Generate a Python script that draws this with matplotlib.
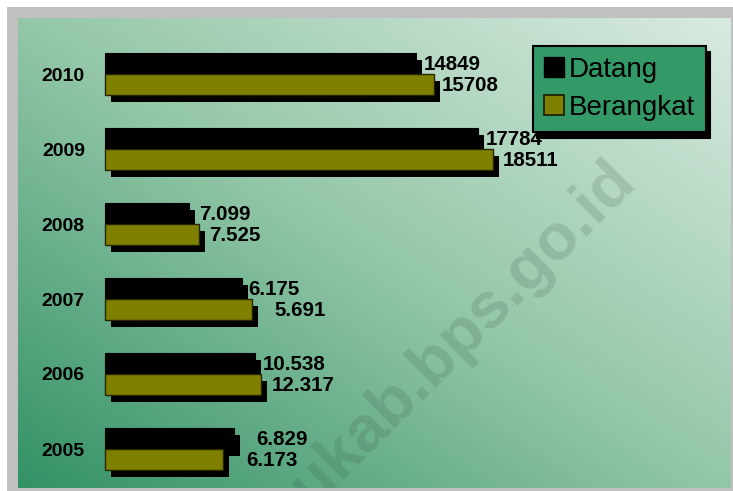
import numpy as np
import matplotlib
matplotlib.use("Agg")
import matplotlib.pyplot as plt
from matplotlib.patches import Rectangle, Patch
from matplotlib.colors import LinearSegmentedColormap
from matplotlib.font_manager import FontProperties
import matplotlib.transforms as mtransforms

# ---------------- data ----------------
years = ["2005", "2006", "2007", "2008", "2009", "2010"]
datang = [6150, 7160, 6520, 4010, 17784, 14849]
berangkat = [5610, 7440, 7000, 4490, 18511, 15708]
datang_labels = ["6.829", "10.538", "6.175", "7.099", "17784", "14849"]
berangkat_labels = ["6.173", "12.317", "5.691", "7.525", "18511", "15708"]
series_names = ["Datang", "Berangkat"]
watermark = "ukab.bps.go.id"

# ---------------- layout / style ----------------
W, H, DPI = 733, 491, 100
FONT = "Liberation Sans"
label_pad_d = [22, 8, 7, 10, 8, 8]      # px gap after bar end
label_pad_b = [24, 11, 23, 10, 10, 8]

fig = plt.figure(figsize=(W / DPI, H / DPI), dpi=DPI, facecolor="white")


def fx(px):
    return px / W


def fy(py):
    return 1 - py / H


# gray frame
fig.patches.append(Rectangle((fx(7), fy(491)), fx(733) - fx(7), fy(7) - fy(491),
                             transform=fig.transFigure, facecolor="#c0c0c0",
                             edgecolor="none", zorder=-5))

L, T, R, B = 18, 18, 731, 488
pos = [fx(L), fy(B), fx(R) - fx(L), fy(T) - fy(B)]

# gradient background
bg = fig.add_axes(pos, zorder=1)
xx = np.linspace(0, 1, 400)
yy = np.linspace(1, 0, 300)
X, Y = np.meshgrid(xx, yy)
G = (X + Y) / 2
cmap = LinearSegmentedColormap.from_list(
    "g", [(0.0, (0.20, 0.57, 0.40)), (0.5, (0.58, 0.78, 0.66)), (1.0, (0.85, 0.92, 0.88))])
bg.imshow(G, cmap=cmap, vmin=0, vmax=1, aspect="auto", extent=[0, 1, 0, 1], origin="upper")
bg.set_xlim(0, 1)
bg.set_ylim(0, 1)
bg.set_axis_off()
bg.text((462 - L) / (R - L), (B - 333) / (B - T), watermark, rotation=45,
        rotation_mode="anchor", ha="center", va="center", fontsize=47,
        fontweight="bold", family=FONT, color=(0.2, 0.3, 0.25), alpha=0.17,
        transform=bg.transAxes, clip_on=True, zorder=2)

# main axes
ax = fig.add_axes(pos, zorder=2)
ax.patch.set_visible(False)
x0 = 105
scale = 388 / 18511.0
ax.set_xlim(-(x0 - L) / scale, (R - x0) / scale)
pitch, yc0 = 75.0, 449.0
ax.set_ylim(-(B - yc0) / pitch, (yc0 - T) / pitch)

idx = np.arange(len(years))
h = 0.28
olive = "#808000"
sh = mtransforms.offset_copy(ax.transData, fig=fig, x=6, y=-7, units="dots")

ax.barh(idx + h / 2, datang, height=h, color="black", transform=sh, zorder=2)
ax.barh(idx + h / 2, datang, height=h, color="black", edgecolor="black", lw=0.8, zorder=3)
ax.barh(idx - h / 2, berangkat, height=h, color="black", transform=sh, zorder=4)
ax.barh(idx - h / 2, berangkat, height=h, color=olive, edgecolor="#262600", lw=1.0, zorder=5)

for i in idx:
    ax.annotate(datang_labels[i], xy=(datang[i], i + h / 2), xytext=(label_pad_d[i], -1),
                textcoords="offset pixels", ha="left", va="center", fontsize=14.8,
                fontweight="bold", family=FONT, color="black", zorder=6)
    ax.annotate(berangkat_labels[i], xy=(berangkat[i], i - h / 2), xytext=(label_pad_b[i], -1),
                textcoords="offset pixels", ha="left", va="center", fontsize=14.8,
                fontweight="bold", family=FONT, color="black", zorder=6)

ax.set_yticks(idx, years)
for lab in ax.get_yticklabels():
    lab.set_fontweight("bold")
    lab.set_fontsize(14)
    lab.set_family(FONT)
ax.tick_params(axis="y", length=0, pad=-(85 - L) * 72 / DPI)
ax.set_xticks([])
for s in ax.spines.values():
    s.set_visible(False)

handles = [Patch(facecolor="black", edgecolor="black", lw=1),
           Patch(facecolor=olive, edgecolor="#1a1a00", lw=1.2)]
leg = ax.legend(handles, series_names, loc="upper left",
                bbox_to_anchor=(fx(533), fy(46)), bbox_transform=fig.transFigure,
                borderaxespad=0, prop=FontProperties(family=FONT, size=20),
                frameon=True, fancybox=False, facecolor="#339966", edgecolor="black",
                framealpha=1, shadow={"ox": 3.0, "oy": -4.3, "color": "black", "alpha": 1},
                handlelength=0.72, handleheight=0.72, handletextpad=0.2,
                labelspacing=0.45, borderpad=0.38)
leg.get_frame().set_linewidth(1.5)
leg.set_zorder(10)

fig.savefig("out.png", dpi=DPI, facecolor="white")
